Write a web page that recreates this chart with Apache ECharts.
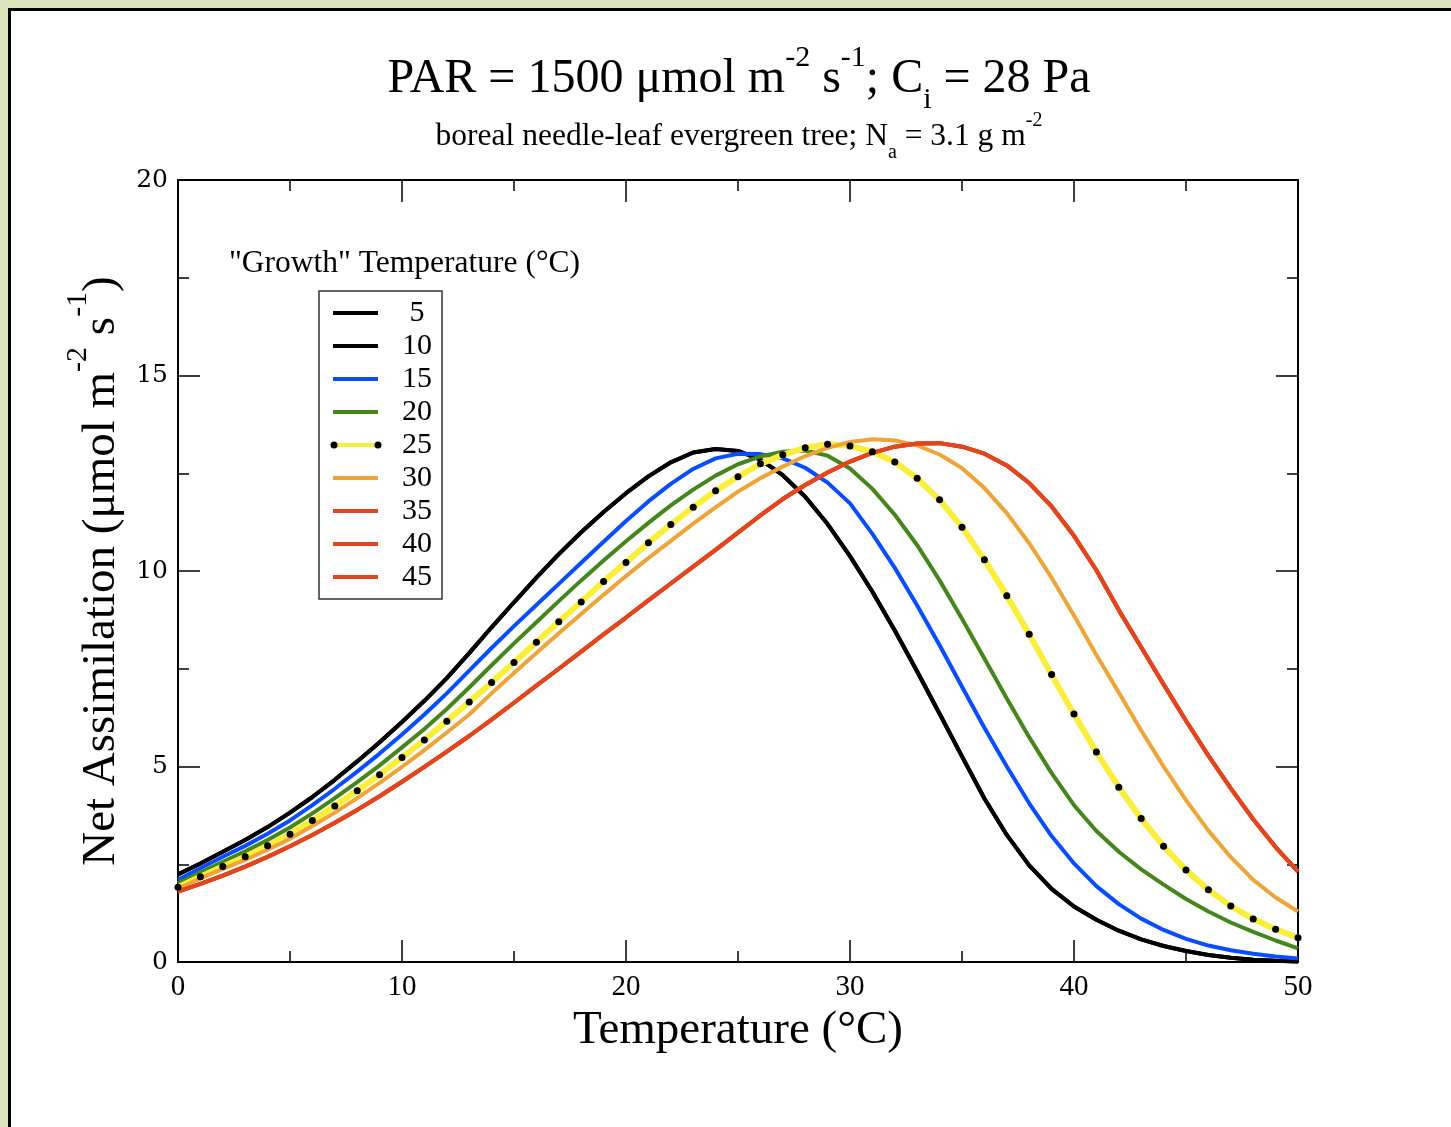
<!DOCTYPE html>
<html>
<head>
<meta charset="utf-8">
<title>Net Assimilation vs Temperature</title>
<script src="https://cdn.jsdelivr.net/npm/echarts@6/dist/echarts.min.js"></script>
<style>
  html, body { margin: 0; padding: 0; background: #d9e4bd; }
  #chart { width: 1451px; height: 1127px; }
</style>
</head>
<body>
<div id="chart"></div>
<script>
// Leaf temperature (°C) at which net assimilation was evaluated
const temperatureC = [0, 1, 2, 3, 4, 5, 6, 7, 8, 9, 10, 11, 12, 13, 14, 15, 16, 17, 18, 19, 20,
  21, 22, 23, 24, 25, 26, 27, 28, 29, 30, 31, 32, 33, 34, 35, 36, 37, 38, 39, 40,
  41, 42, 43, 44, 45, 46, 47, 48, 49, 50];

// Net assimilation (µmol m-2 s-1) for each growth temperature
const growth5 = [2.24, 2.52, 2.82, 3.12, 3.45, 3.82, 4.22, 4.66, 5.13, 5.62, 6.14, 6.68, 7.26, 7.90, 8.56,
  9.20, 9.83, 10.43, 10.99, 11.51, 11.99, 12.42, 12.78, 13.03, 13.12, 13.07, 12.85, 12.45, 11.90, 11.20,
  10.38, 9.47, 8.48, 7.43, 6.35, 5.26, 4.18, 3.25, 2.47, 1.87, 1.42, 1.08, 0.80, 0.58, 0.41, 0.28,
  0.18, 0.11, 0.06, 0.03, 0.01];
const growth10 = [2.24, 2.52, 2.82, 3.12, 3.45, 3.82, 4.22, 4.66, 5.13, 5.62, 6.14, 6.68, 7.26, 7.90, 8.56,
  9.20, 9.83, 10.43, 10.99, 11.51, 11.99, 12.42, 12.78, 13.03, 13.12, 13.07, 12.85, 12.45, 11.90, 11.20,
  10.38, 9.47, 8.48, 7.43, 6.35, 5.26, 4.18, 3.25, 2.47, 1.87, 1.42, 1.08, 0.80, 0.58, 0.41, 0.28,
  0.18, 0.11, 0.06, 0.03, 0.01];
const growth15 = [2.10, 2.40, 2.69, 2.97, 3.28, 3.62, 4.01, 4.43, 4.87, 5.33, 5.82, 6.33, 6.87, 7.45, 8.03,
  8.59, 9.13, 9.67, 10.21, 10.75, 11.28, 11.78, 12.23, 12.61, 12.88, 13.00, 12.99, 12.88, 12.64, 12.26,
  11.73, 10.95, 10.08, 9.12, 8.10, 7.04, 5.99, 5.00, 4.06, 3.22, 2.52, 1.94, 1.48, 1.11, 0.82, 0.59,
  0.42, 0.30, 0.21, 0.14, 0.09];
const growth20 = [2.01, 2.29, 2.56, 2.83, 3.12, 3.44, 3.80, 4.19, 4.60, 5.03, 5.49, 5.96, 6.47, 7.02, 7.59,
  8.15, 8.69, 9.23, 9.76, 10.27, 10.76, 11.23, 11.68, 12.08, 12.44, 12.73, 12.93, 13.05, 13.08, 12.95,
  12.62, 12.10, 11.44, 10.66, 9.76, 8.78, 7.76, 6.74, 5.75, 4.83, 4.01, 3.35, 2.82, 2.37, 1.98, 1.61,
  1.29, 1.01, 0.77, 0.55, 0.35];
const growth25 = [1.91, 2.18, 2.44, 2.69, 2.97, 3.27, 3.62, 3.99, 4.38, 4.79, 5.23, 5.68, 6.16, 6.65, 7.15,
  7.66, 8.18, 8.70, 9.21, 9.73, 10.22, 10.72, 11.19, 11.63, 12.05, 12.41, 12.74, 12.97, 13.15, 13.24,
  13.20, 13.05, 12.79, 12.37, 11.82, 11.12, 10.29, 9.37, 8.38, 7.35, 6.34, 5.37, 4.47, 3.67, 2.96, 2.35,
  1.85, 1.43, 1.10, 0.84, 0.62];
const growth30 = [1.87, 2.14, 2.38, 2.61, 2.87, 3.15, 3.48, 3.82, 4.19, 4.58, 4.99, 5.42, 5.87, 6.33, 6.87,
  7.39, 7.90, 8.41, 8.90, 9.39, 9.87, 10.33, 10.77, 11.21, 11.63, 12.03, 12.37, 12.67, 12.94, 13.15,
  13.30, 13.37, 13.34, 13.21, 12.98, 12.63, 12.12, 11.48, 10.71, 9.83, 8.86, 7.85, 6.89, 5.92, 5.00, 4.14,
  3.36, 2.68, 2.10, 1.65, 1.29];
const growth35 = [1.80, 2.00, 2.21, 2.44, 2.69, 2.96, 3.25, 3.56, 3.89, 4.24, 4.61, 4.99, 5.38, 5.78, 6.20,
  6.63, 7.07, 7.50, 7.94, 8.38, 8.81, 9.25, 9.68, 10.11, 10.54, 10.98, 11.42, 11.84, 12.20, 12.52,
  12.80, 13.02, 13.18, 13.26, 13.27, 13.18, 13.00, 12.70, 12.25, 11.65, 10.90, 10.02, 9.00, 8.05, 7.10, 6.17,
  5.28, 4.44, 3.65, 2.94, 2.31];
const growth40 = [1.80, 2.00, 2.21, 2.44, 2.69, 2.96, 3.25, 3.56, 3.89, 4.24, 4.61, 4.99, 5.38, 5.78, 6.20,
  6.63, 7.07, 7.50, 7.94, 8.38, 8.81, 9.25, 9.68, 10.11, 10.54, 10.98, 11.42, 11.84, 12.20, 12.52,
  12.80, 13.02, 13.18, 13.26, 13.27, 13.18, 13.00, 12.70, 12.25, 11.65, 10.90, 10.02, 9.00, 8.05, 7.10, 6.17,
  5.28, 4.44, 3.65, 2.94, 2.31];
const growth45 = [1.80, 2.00, 2.21, 2.44, 2.69, 2.96, 3.25, 3.56, 3.89, 4.24, 4.61, 4.99, 5.38, 5.78, 6.20,
  6.63, 7.07, 7.50, 7.94, 8.38, 8.81, 9.25, 9.68, 10.11, 10.54, 10.98, 11.42, 11.84, 12.20, 12.52,
  12.80, 13.02, 13.18, 13.26, 13.27, 13.18, 13.00, 12.70, 12.25, 11.65, 10.90, 10.02, 9.00, 8.05, 7.10, 6.17,
  5.28, 4.44, 3.65, 2.94, 2.31];

const growthLabels = ['5', '10', '15', '20', '25', '30', '35', '40', '45'];
const growthSeries = [growth5, growth10, growth15, growth20, growth25, growth30, growth35, growth40, growth45];
const lineColors = ['#000000', '#000000', '#0a4dff', '#44861c', '#f9ee3a', '#efa438', '#e2461f', '#e2461f', '#e2461f'];

const xTicks = { min: 0, max: 50, interval: 10 };
const yTicks = { min: 0, max: 20, interval: 5 };

const SERIF = 'Liberation Serif';
const axisBlack = { color: '#000', width: 2 };
const tickStyle = { color: '#000', width: 1.5 };

function pairs(values) {
  return temperatureC.map((t, i) => [t, values[i]]);
}

const series = growthLabels.map((name, i) => {
  const dotted = name === '25';
  return {
    name: name,
    type: 'line',
    data: pairs(growthSeries[i]),
    smooth: false,
    showSymbol: dotted,
    symbol: dotted ? 'circle' : 'none',
    symbolSize: 7,
    itemStyle: { color: dotted ? '#000' : lineColors[i] },
    lineStyle: { color: lineColors[i], width: dotted ? 6 : 4 },
    emphasis: { disabled: true },
    animation: false
  };
});

const txt = (size, lh, align) => ({
  fontSize: size, fontFamily: SERIF, fontWeight: 'normal', color: '#000',
  lineHeight: lh, verticalAlign: align
});

const option = {
  backgroundColor: '#d9e4bd',
  animation: false,
  title: [
    {
      text: '{m|PAR = 1500 μmol m}{sup|-2}{m| s}{sup|-1}{m|; C}{sub|i}{m| = 28 Pa}',
      left: 739, top: 43, textAlign: 'center', padding: 0,
      textStyle: { fontWeight: 'normal', rich: { m: txt(48, 72, 'middle'), sup: txt(30, 30, 'top'), sub: txt(30, 30, 'bottom') } }
    },
    {
      text: '{m|boreal needle-leaf evergreen tree; N}{sub|a}{m| = 3.1 g m}{sup|-2}',
      left: 739, top: 111, textAlign: 'center', padding: 0,
      textStyle: { fontWeight: 'normal', rich: { m: txt(31.5, 52, 'middle'), sup: txt(20, 20, 'top'), sub: txt(20, 20, 'bottom') } }
    },
    {
      text: '"Growth" Temperature (°C)',
      left: 229, top: 248, padding: 0,
      textStyle: { fontFamily: SERIF, fontSize: 31.5, fontWeight: 'normal', color: '#000' }
    }
  ],
  legend: {
    orient: 'vertical',
    left: 319, top: 291,
    padding: [7, 5, 7, 14],
    itemGap: 3,
    itemWidth: 45,
    itemHeight: 4,
    icon: 'rect',
    borderColor: '#333',
    borderWidth: 1.5,
    backgroundColor: '#fff',
    selectedMode: false,
    data: growthLabels.map((name, i) => ({
      name: name,
      icon: 'rect',
      itemStyle: { color: lineColors[i] }
    })),
    formatter: (name) => '{a|' + name + '}',
    textStyle: {
      rich: { a: { width: 40, align: 'center', padding: [0, 0, 0, 14], fontSize: 30, fontFamily: SERIF, color: '#000', lineHeight: 28 } }
    }
  },
  grid: { left: 178, right: 153, top: 180, bottom: 165, containLabel: false },
  xAxis: [
    {
      type: 'value', position: 'bottom', ...xTicks,
      name: 'Temperature (°C)', nameLocation: 'middle', nameGap: 36,
      nameTextStyle: { fontFamily: SERIF, fontSize: 47, color: '#000' },
      axisLine: { onZero: false, lineStyle: axisBlack },
      axisTick: { inside: true, length: 22, lineStyle: tickStyle },
      minorTick: { show: true, splitNumber: 2, length: 11, lineStyle: tickStyle },
      splitLine: { show: false },
      axisLabel: { fontFamily: SERIF, fontSize: 29, color: '#000', margin: 11 }
    },
    {
      type: 'value', position: 'top', ...xTicks,
      axisLine: { onZero: false, lineStyle: axisBlack },
      axisTick: { inside: true, length: 22, lineStyle: tickStyle },
      minorTick: { show: true, splitNumber: 2, length: 11, lineStyle: tickStyle },
      splitLine: { show: false },
      axisLabel: { show: false }
    }
  ],
  yAxis: [
    {
      type: 'value', position: 'left', ...yTicks,
      name: '{m|Net Assimilation (μmol m}{sup|-2}{m| s}{sup|-1}{m|)}',
      nameLocation: 'middle', nameGap: 36, nameRotate: 90,
      nameTextStyle: { rich: { m: txt(47, 78, 'middle'), sup: txt(30, 30, 'top') } },
      axisLine: { onZero: false, lineStyle: axisBlack },
      axisTick: { inside: true, length: 22, lineStyle: tickStyle },
      minorTick: { show: true, splitNumber: 2, length: 11, lineStyle: tickStyle },
      splitLine: { show: false },
      axisLabel: { fontFamily: 'DejaVu Serif', fontSize: 25, color: '#000', margin: 10 }
    },
    {
      type: 'value', position: 'right', ...yTicks,
      axisLine: { onZero: false, lineStyle: axisBlack },
      axisTick: { inside: true, length: 22, lineStyle: tickStyle },
      minorTick: { show: true, splitNumber: 2, length: 11, lineStyle: tickStyle },
      splitLine: { show: false },
      axisLabel: { show: false }
    }
  ],
  graphic: [
    {
      type: 'rect', z: -10, silent: true,
      shape: { x: 9.5, y: 9.5, width: 1480, height: 1160 },
      style: { fill: '#fff', stroke: '#000', lineWidth: 3 }
    },
    // end dots of the dotted-line legend key
    { type: 'circle', z: 100, silent: true, shape: { cx: 334, cy: 445, r: 3.5 }, style: { fill: '#000' } },
    { type: 'circle', z: 100, silent: true, shape: { cx: 378, cy: 445, r: 3.5 }, style: { fill: '#000' } }
  ],
  series: series
};

const chart = echarts.init(document.getElementById('chart'), null, { renderer: 'canvas' });
chart.setOption(option);
</script>
</body>
</html>
